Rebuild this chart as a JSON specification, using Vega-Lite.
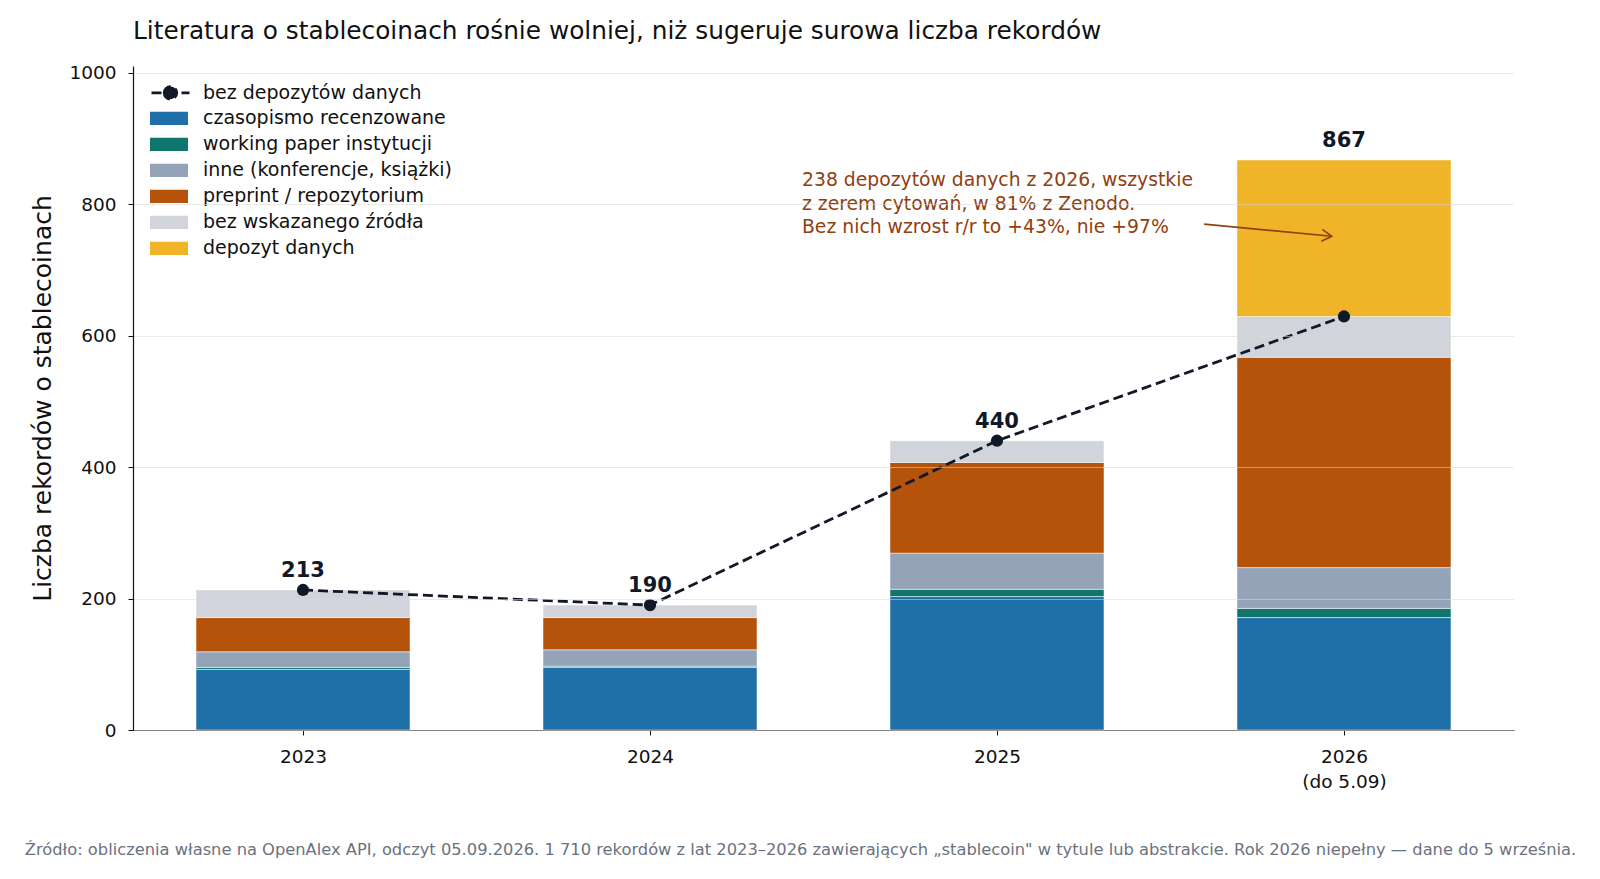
{
  "$schema": "https://vega.github.io/schema/vega-lite/v6.json",
  "width": 1381,
  "height": 664,
  "autosize": {"type": "none"},
  "padding": {"left": 133, "top": 66, "right": 86, "bottom": 149},
  "background": "white",
  "config": {
    "font": "DejaVu Sans",
    "view": {"stroke": null},
    "axis": {"labelFont": "DejaVu Sans", "titleFont": "DejaVu Sans"}
  },
  "title": {
    "text": "Literatura o stablecoinach rośnie wolniej, niż sugeruje surowa liczba rekordów",
    "anchor": "start",
    "frame": "group",
    "fontSize": 24.8,
    "fontWeight": "normal",
    "color": "#111111",
    "offset": 20
  },
  "datasets": {
    "rekordy": [
      {"rok": 2023, "kategoria": "czasopismo recenzowane", "n": 92},
      {"rok": 2023, "kategoria": "working paper instytucji", "n": 3},
      {"rok": 2023, "kategoria": "inne (konferencje, książki)", "n": 24},
      {"rok": 2023, "kategoria": "preprint / repozytorium", "n": 52},
      {"rok": 2023, "kategoria": "bez wskazanego źródła", "n": 42},
      {"rok": 2024, "kategoria": "czasopismo recenzowane", "n": 95},
      {"rok": 2024, "kategoria": "working paper instytucji", "n": 2},
      {"rok": 2024, "kategoria": "inne (konferencje, książki)", "n": 25},
      {"rok": 2024, "kategoria": "preprint / repozytorium", "n": 49},
      {"rok": 2024, "kategoria": "bez wskazanego źródła", "n": 19},
      {"rok": 2025, "kategoria": "czasopismo recenzowane", "n": 203},
      {"rok": 2025, "kategoria": "working paper instytucji", "n": 11},
      {"rok": 2025, "kategoria": "inne (konferencje, książki)", "n": 55},
      {"rok": 2025, "kategoria": "preprint / repozytorium", "n": 138},
      {"rok": 2025, "kategoria": "bez wskazanego źródła", "n": 33},
      {"rok": 2026, "kategoria": "czasopismo recenzowane", "n": 171},
      {"rok": 2026, "kategoria": "working paper instytucji", "n": 14},
      {"rok": 2026, "kategoria": "inne (konferencje, książki)", "n": 62},
      {"rok": 2026, "kategoria": "preprint / repozytorium", "n": 320},
      {"rok": 2026, "kategoria": "bez wskazanego źródła", "n": 62},
      {"rok": 2026, "kategoria": "depozyt danych", "n": 238}
    ],
    "sumy": [
      {"rok": 2023, "razem": 213, "bez_depozytow": 213},
      {"rok": 2024, "razem": 190, "bez_depozytow": 190},
      {"rok": 2025, "razem": 440, "bez_depozytow": 440},
      {"rok": 2026, "razem": 867, "bez_depozytow": 629}
    ],
    "notka": [
      {"rok": 2024.438, "y": 836, "tekst": ["238 depozytów danych z 2026, wszystkie", "z zerem cytowań, w 81% z Zenodo.", "Bez nich wzrost r/r to +43%, nie +97%"]}
    ],
    "strzalka": [
      {"x0": 2025.597, "y0": 769.5, "x1": 2025.965, "y1": 751}
    ]
  },
  "layer": [
    {
      "data": {"name": "rekordy"},
      "transform": [
        {"calculate": "indexof(['czasopismo recenzowane', 'working paper instytucji', 'inne (konferencje, książki)', 'preprint / repozytorium', 'bez wskazanego źródła', 'depozyt danych'], datum.kategoria)", "as": "kolejnosc"}
      ],
      "mark": {"type": "bar", "width": 214, "stroke": "white", "strokeWidth": 0.5},
      "encoding": {
        "x": {
          "field": "rok",
          "type": "quantitative",
          "scale": {"domain": [2022.51, 2026.49], "nice": false, "zero": false, "padding": 0},
          "axis": {
            "values": [2023, 2024, 2025, 2026],
            "labelExpr": "datum.value == 2026 ? ['2026', '(do 5.09)'] : toString(datum.value)",
            "labelFontSize": 18.5,
            "labelColor": "#111111",
            "labelPadding": 12,
            "labelLineHeight": 25,
            "labelBaseline": "top",
            "tickSize": 5,
            "tickColor": "#111111",
            "domainColor": "#111111",
            "domainWidth": 1.2,
            "grid": false,
            "title": "Źródło: obliczenia własne na OpenAlex API, odczyt 05.09.2026. 1 710 rekordów z lat 2023–2026 zawierających „stablecoin\" w tytule lub abstrakcie. Rok 2026 niepełny — dane do 5 września.",
            "titleFontSize": 16.3,
            "titleFontWeight": "normal",
            "titleColor": "#6b7280",
            "titleX": 667,
            "titleY": 119,
            "titleAlign": "center",
            "titleBaseline": "middle"
          }
        },
        "y": {
          "field": "n",
          "type": "quantitative",
          "stack": "zero",
          "scale": {"domain": [0, 1010], "nice": false, "padding": 0},
          "axis": {
            "values": [0, 200, 400, 600, 800, 1000],
            "format": "d",
            "labelFontSize": 18.5,
            "labelColor": "#111111",
            "labelPadding": 12,
            "tickSize": 5,
            "tickColor": "#111111",
            "domainColor": "#111111",
            "domainWidth": 1.2,
            "grid": true,
            "gridColor": "#d9d9d9",
            "gridOpacity": 0.55,
            "zindex": 1,
            "title": "Liczba rekordów o stablecoinach",
            "titleFontSize": 25,
            "titleFontWeight": "normal",
            "titleColor": "#111111",
            "titlePadding": 13
          }
        },
        "order": {"field": "kolejnosc", "type": "quantitative", "sort": "ascending"},
        "color": {
          "field": "kategoria",
          "type": "nominal",
          "scale": {
            "domain": ["czasopismo recenzowane", "working paper instytucji", "inne (konferencje, książki)", "preprint / repozytorium", "bez wskazanego źródła", "depozyt danych"],
            "range": ["#1f6fa8", "#0f766e", "#94a3b8", "#b45309", "#d1d5db", "#f0b429"]
          },
          "legend": {
            "orient": "none",
            "legendX": 17,
            "legendY": 39.5,
            "title": null,
            "padding": 0,
            "symbolType": "M-1,-0.35H1V0.35H-1Z",
            "symbolSize": 1444,
            "symbolStrokeWidth": 0,
            "clipHeight": 25.6,
            "labelFontSize": 19,
            "labelColor": "#111111",
            "labelOffset": 15,
            "labelLimit": 400,
            "rowPadding": 0
          }
        }
      }
    },
    {
      "data": {"name": "sumy"},
      "mark": {"type": "line", "strokeDash": [10, 5], "strokeWidth": 2.8, "color": "#111827"},
      "encoding": {
        "x": {"field": "rok", "type": "quantitative"},
        "y": {"field": "bez_depozytow", "type": "quantitative"},
        "strokeDash": {
          "datum": "bez depozytów danych",
          "type": "nominal",
          "scale": {"domain": ["bez depozytów danych"], "range": [[10, 5]]},
          "legend": {
            "orient": "none",
            "legendX": 17,
            "legendY": 14,
            "title": null,
            "padding": 0,
            "symbolType": "M-1,0H1M-0.33,0A0.33,0.33 0 1,1 0.33,0A0.33,0.33 0 1,1 -0.33,0Z",
            "symbolSize": 1444,
            "symbolStrokeColor": "#111827",
            "symbolFillColor": "#111827",
            "symbolStrokeWidth": 2.8,
            "symbolOpacity": 1,
            "clipHeight": 25.6,
            "labelFontSize": 19,
            "labelColor": "#111111",
            "labelOffset": 12,
            "labelLimit": 400,
            "encode": {
              "symbols": {
                "update": {
                  "strokeDash": {"value": [31, 6]}
                }
              }
            }
          }
        }
      }
    },
    {
      "data": {"name": "sumy"},
      "mark": {"type": "point", "filled": true, "size": 150, "opacity": 1, "color": "#111827"},
      "encoding": {
        "x": {"field": "rok", "type": "quantitative"},
        "y": {"field": "bez_depozytow", "type": "quantitative"}
      }
    },
    {
      "data": {"name": "sumy"},
      "mark": {"type": "text", "fontSize": 21, "fontWeight": "bold", "color": "#111827", "baseline": "alphabetic", "dy": -13},
      "encoding": {
        "x": {"field": "rok", "type": "quantitative"},
        "y": {"field": "razem", "type": "quantitative"},
        "text": {"field": "razem", "type": "quantitative"}
      }
    },
    {
      "data": {"name": "notka"},
      "mark": {"type": "text", "fontSize": 18.8, "color": "#92400e", "align": "left", "baseline": "middle", "lineHeight": 23.5},
      "encoding": {
        "x": {"field": "rok", "type": "quantitative"},
        "y": {"field": "y", "type": "quantitative"},
        "text": {"field": "tekst"}
      }
    },
    {
      "data": {"name": "strzalka"},
      "mark": {"type": "rule", "color": "#92400e", "strokeWidth": 1.6},
      "encoding": {
        "x": {"field": "x0", "type": "quantitative"},
        "y": {"field": "y0", "type": "quantitative"},
        "x2": {"field": "x1"},
        "y2": {"field": "y1"}
      }
    },
    {
      "data": {"name": "strzalka"},
      "mark": {"type": "point", "shape": "M-1,-0.6L0,0L-1,0.6", "filled": false, "stroke": "#92400e", "strokeWidth": 1.6, "size": 400, "angle": 5.4, "opacity": 1},
      "encoding": {
        "x": {"field": "x1", "type": "quantitative"},
        "y": {"field": "y1", "type": "quantitative"}
      }
    }
  ]
}
